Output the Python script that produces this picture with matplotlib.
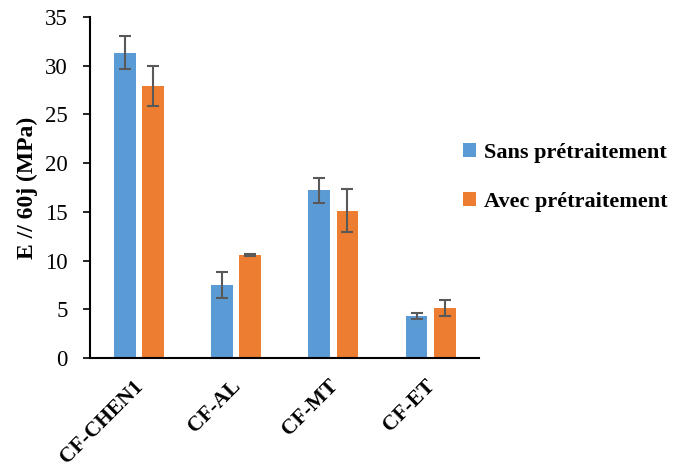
import matplotlib.pyplot as plt
import matplotlib.transforms as mtransforms
import numpy as np

categories = ['CF-CHEN1', 'CF-AL', 'CF-MT', 'CF-ET']
sans = [31.35, 7.5, 17.2, 4.35]
sans_err = [1.65, 1.3, 1.3, 0.3]
avec = [27.9, 10.6, 15.1, 5.15]
avec_err = [2.05, 0.1, 2.2, 0.8]

plt.rcParams['font.family'] = ['Liberation Serif', 'DejaVu Serif']

fig = plt.figure(figsize=(6.77, 4.70), dpi=100)
ax = fig.add_axes([0.133, 0.238, 0.575, 0.726])

x = np.arange(len(categories))
w = 0.225
off = 0.145
err_kw = dict(ecolor='#595959', elinewidth=1.5, capsize=4, capthick=1.5)
ax.bar(x - off, sans, w, yerr=sans_err, color='#5B9BD5', label='Sans prétraitement', error_kw=err_kw)
ax.bar(x + off, avec, w, yerr=avec_err, color='#ED7D31', label='Avec prétraitement', error_kw=err_kw)

ax.set_xlim(-0.5, len(categories) - 0.5)
ax.set_ylim(0, 35)
ax.set_yticks(range(0, 36, 5))
ax.tick_params(axis='y', labelsize=16.5, length=5, width=1.2, direction='out', pad=11)
ax.set_xticks(x)
ax.set_xticklabels(categories, rotation=45, ha='right', rotation_mode='anchor',
                   fontsize=15.5, fontweight='bold')
ax.tick_params(axis='x', length=0, pad=13)
shift = mtransforms.ScaledTranslation(-4 / 72, 0, fig.dpi_scale_trans)
for lbl in ax.get_xticklabels():
    lbl.set_transform(lbl.get_transform() + shift)
for s in ['top', 'right']:
    ax.spines[s].set_visible(False)
ax.spines['left'].set_linewidth(1.5)
ax.spines['bottom'].set_linewidth(1.5)
ax.set_ylabel('E // 60j (MPa)', fontsize=17, fontweight='bold', labelpad=5)

fig.legend(loc='center left', bbox_to_anchor=(0.654, 0.623), frameon=False,
           prop={'weight': 'bold', 'size': 16}, handlelength=0.6, handleheight=0.6,
           handletextpad=0.35, labelspacing=1.3)

fig.savefig('out.png', dpi=100)
